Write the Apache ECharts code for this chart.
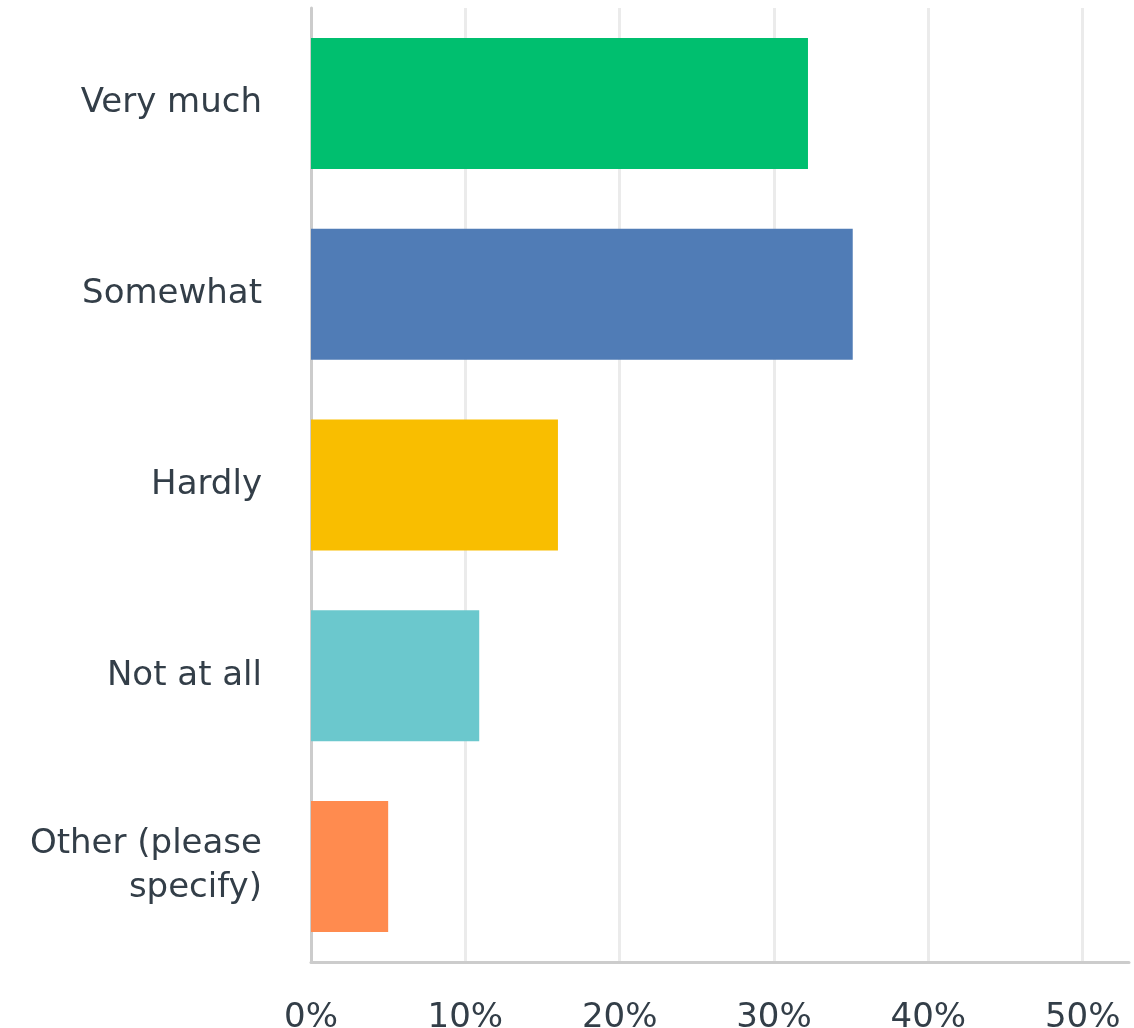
<!DOCTYPE html>
<html>
<head>
<meta charset="utf-8">
<script src="https://cdn.jsdelivr.net/npm/echarts@6/dist/echarts.min.js"></script>
<style>
html,body{margin:0;padding:0;background:#fff;}
#chart{width:1134px;height:1028px;}
</style>
</head>
<body>
<div id="chart"></div>
<script>
const categories = ['Very much', 'Somewhat', 'Hardly', 'Not at all', 'Other (please\nspecify)'];
const values = [32.2, 35.1, 16.0, 10.9, 5.0];
const colors = ['#00bf6f', '#507cb6', '#f9be00', '#6bc8cd', '#ff8b4f'];
const tickLabels = ['0%', '10%', '20%', '30%', '40%', '50%'];

const chart = echarts.init(document.getElementById('chart'), null, {renderer: 'canvas'});
const textColor = '#333e48';
chart.setOption({
  animation: false,
  backgroundColor: '#fff',
  grid: {left: 311, right: 5, top: 8, bottom: 66, containLabel: false, outerBoundsMode: 'none'},
  xAxis: {
    type: 'value',
    min: 0,
    max: 53,
    interval: 10,
    axisLine: {show: true, lineStyle: {color: '#cccccc', width: 3}},
    axisTick: {show: false},
    splitLine: {show: true, showMinLine: false, showMaxLine: false, lineStyle: {color: '#ebebeb', width: 3}},
    axisLabel: {
      showMaxLabel: false,
      margin: 39,
      fontSize: 34,
      fontFamily: 'DejaVu Sans',
      color: textColor,
      formatter: function (v) { const i = Math.round(v / 10); return (v % 10 === 0 && tickLabels[i]) ? tickLabels[i] : ''; }
    }
  },
  yAxis: {
    type: 'category',
    inverse: true,
    data: categories,
    axisLine: {show: true, lineStyle: {color: '#cccccc', width: 3}},
    axisTick: {show: false},
    axisLabel: {
      margin: 49,
      fontSize: 34,
      lineHeight: 44,
      padding: [4, 0, 0, 0],
      fontFamily: 'DejaVu Sans',
      color: textColor,
      align: 'right'
    }
  },
  series: [{
    type: 'bar',
    barWidth: 131,
    data: values.map((v, i) => ({value: v, itemStyle: {color: colors[i]}})),
    label: {show: false}
  }]
});
</script>
</body>
</html>
